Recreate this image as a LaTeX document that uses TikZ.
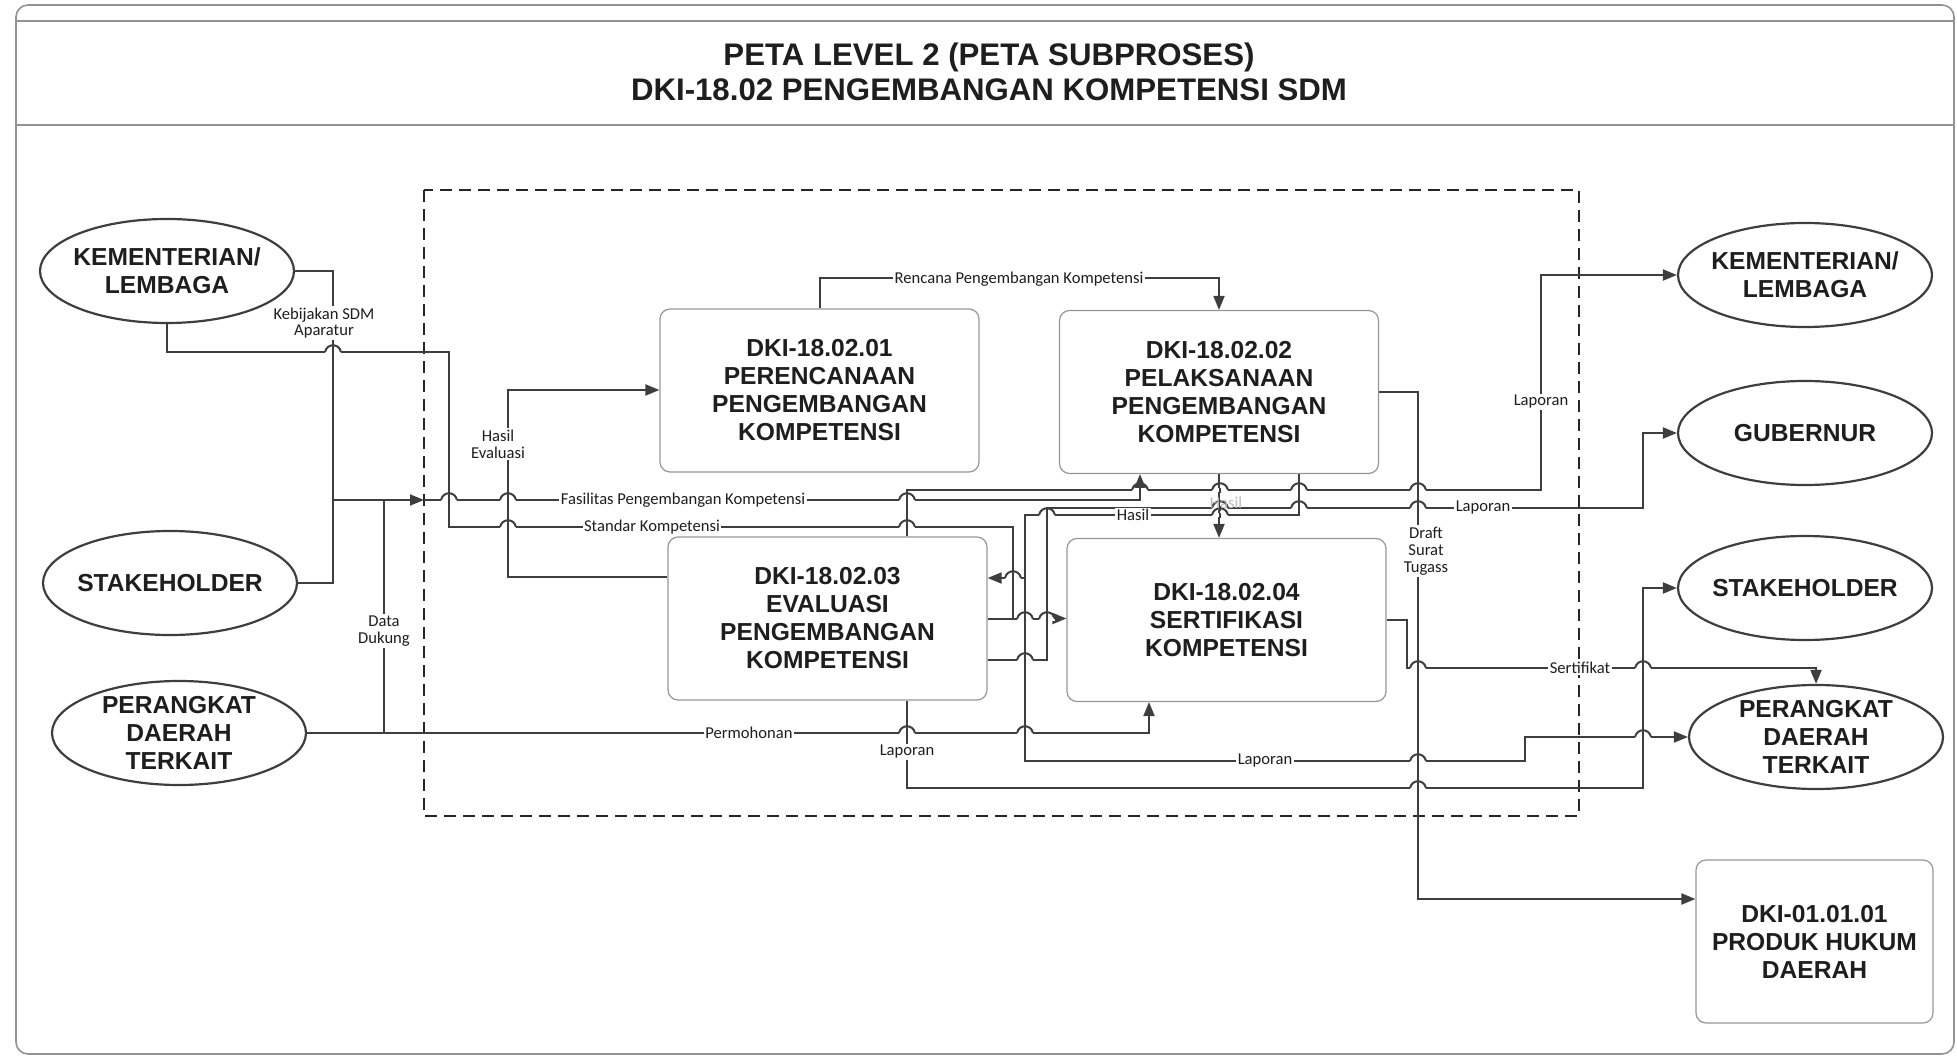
\documentclass[tikz,border=0pt]{standalone}
\usepackage{fontspec}
\setmainfont{Liberation Sans}
\newfontfamily\lblfont{Carlito}
\usepackage{tikz}
\usetikzlibrary{arrows.meta,positioning,calc,shapes.geometric}
\definecolor{lineclr}{RGB}{62,62,62}
\definecolor{boxclr}{RGB}{150,150,150}
\definecolor{txtclr}{RGB}{30,30,30}
\tikzset{
  frame/.style={draw=gray!85, line width=0.8pt, rounded corners=6pt},
  framethin/.style={draw=gray!85, line width=0.8pt},
  area/.style={draw=black!85, line width=0.8pt, dash pattern=on 6pt off 3.5pt},
  proc/.style={draw=boxclr, line width=0.6pt, rounded corners=5pt, align=center,
    text=txtclr, font=\bfseries\fontsize{12.3}{14}\selectfont,
    minimum width=159.5pt, minimum height=81.5pt, inner sep=0pt},
  actxt/.style={align=center, text=txtclr, inner sep=0pt,
    font=\bfseries\fontsize{12.3}{14}\selectfont},
  actor/.style={ellipse, draw=lineclr, line width=1.1pt, minimum width=127pt,
    minimum height=52pt, inner sep=0pt, label={[actxt]center:#1}},
  conn/.style={draw=lineclr, line width=1pt},
  arr/.style={conn, -{Triangle[length=7pt,width=5.5pt]}},
  lbl/.style={fill=white, inner sep=0.8pt, align=center, text=txtclr,
    font=\lblfont\fontsize{8.3}{8.4}\selectfont},
}

\begin{document}
\begin{tikzpicture}[x=0.5pt, y=-0.5pt]
  \useasboundingbox (0,0) rectangle (1957,1058);

  % Frame and title
  \draw[frame] (16,5) rectangle (1954,1054);
  \draw[framethin] (16,21) -- (1954,21);
  \draw[framethin] (16,125) -- (1954,125);
  \node[align=center, text=txtclr, font=\bfseries\fontsize{15.6}{17.5}\selectfont] (ttl) at (989,72)
    {PETA LEVEL 2 (PETA SUBPROSES)\\DKI-18.02 PENGEMBANGAN KOMPETENSI SDM};

  % Subprocess area
  \draw[area] (424,190) rectangle (1579,816);

  % Actors
  \node[actor={KEMENTERIAN/\\LEMBAGA}] (klL) at (167,271) {};
  \node[actor={STAKEHOLDER}] (shL) at (170,583) {};
  \node[actor={PERANGKAT\\DAERAH\\TERKAIT}] (pdL) at (179,733) {};
  \node[actor={KEMENTERIAN/\\LEMBAGA}] (klR) at (1805,275) {};
  \node[actor={GUBERNUR}] (gub) at (1805,433) {};
  \node[actor={STAKEHOLDER}] (shR) at (1805,588) {};
  \node[actor={PERANGKAT\\DAERAH\\TERKAIT}] (pdR) at (1816,737) {};

  % Subprocesses
  \node[proc] (b01) at (819.5,390.5) {DKI-18.02.01\\PERENCANAAN\\PENGEMBANGAN\\KOMPETENSI};
  \node[proc] (b02) at (1219,392) {DKI-18.02.02\\PELAKSANAAN\\PENGEMBANGAN\\KOMPETENSI};
  \node[proc] (b03) at (827.5,618.5) {DKI-18.02.03\\EVALUASI\\PENGEMBANGAN\\KOMPETENSI};
  \node[proc] (b04) at (1226.5,620) {DKI-18.02.04\\SERTIFIKASI\\KOMPETENSI};
  \node[proc, minimum width=118.5pt] (dki) at (1814.5,941.5) {DKI-01.01.01\\PRODUK HUKUM\\DAERAH};

  % Inputs
  \coordinate (jk) at (333,500);
  \coordinate (gate) at (424,500);
  \draw[conn] (klL.east) -| (jk) |- (shL.east);
  \draw[arr] (jk) -- (gate);
  \draw[conn] (pdL.east -| 384,0) -- (jk -| 384,0);
  \draw[arr] (pdL.east) -| (b04.south -| 1149,0);
  \draw[arr] (gate) -| (b02.south -| 1140,0);
  \draw[conn] (klL.south) |- (449,352) |- (1013,527) -- (b03.east -| 1013,0);

  % Between subprocesses
  \draw[arr] (b03.west |- 0,577) -| (508,480) |- (b01.west |- 0,390);
  \draw[arr] (b01.north) -- ++(0,-30) -| (b02.north);
  \draw[arr] (b02.south) -- (b02.south |- b04.north);
  \draw[arr] (b02.south -| 1299,0) |- (1025,515) |- (b03.east |- 0,578);
  \draw[arr] (b03.east) -- (b04.west |- b03.east);

  % Outputs
  \draw[arr] (b02.south -| 1299,0) |- (1025,515) |- (1525,761) |- (pdR.west);
  \draw[arr] (b03.north -| 907,0) |- (1541,490) |- (klR.west);
  \draw[arr] (b03.east |- 0,660) -| (1047,508) -| (1643,470) |- (gub.west);
  \draw[arr] (b03.south -| 907,0) |- (1643,788) |- (shR.west);
  \draw[arr] (b04.east) -| (1407,668) -| (pdR.north);
  \draw[arr] (b02.east) -| (1418,899) -- (dki.west |- 0,899);

  % Line jumps
  \foreach \hx/\hy in {333/352, 449/500, 508/500, 907/500, 508/527, 907/527,
      1140/490, 1220/490, 1299/490, 1418/490, 1220/508, 1299/508, 1418/508,
      1047/515, 1220/515, 1013/578, 1025/619, 1047/619, 1025/660, 907/733,
      1025/733, 1418/668, 1643/668, 1643/737, 1418/761, 1418/788}{
    \fill[white] (\hx-8,\hy-2) rectangle (\hx+8,\hy+2);
    \draw[conn] (\hx,\hy-2.5) -- (\hx,\hy+2.5);
    \draw[conn] (\hx-8,\hy) .. controls (\hx-6,\hy-9) and (\hx+6,\hy-9) .. (\hx+8,\hy);
  }

  % Labels
  \node[lbl] (lKeb) at (324,323) {Kebijakan SDM\\Aparatur};
  \node[lbl] (lHev) at (498,444) {Hasil\\Evaluasi};
  \node[lbl] (lFas) at (683,500) {Fasilitas Pengembangan Kompetensi};
  \node[lbl] (lStd) at (652,527) {Standar Kompetensi};
  \node[lbl] (lDat) at (384,631) {Data\\Dukung};
  \node[lbl] (lPer) at (749,733) {Permohonan};
  \node[lbl] (lRen) at (1019,279) {Rencana Pengembangan Kompetensi};
  \node[lbl, fill=none, text=gray!55] (lHs2) at (1226,503) {Hasil};
  \node[lbl] (lHs1) at (1133,515) {Hasil};
  \node[lbl] (lLap1) at (1541,402) {Laporan};
  \node[lbl] (lLap2) at (1483,508) {Laporan};
  \node[lbl] (lLap3) at (907,752) {Laporan};
  \node[lbl] (lLap4) at (1265,761) {Laporan};
  \node[lbl] (lSer) at (1580,668) {Sertifikat};
  \node[lbl] (lDra) at (1426,551) {Draft\\Surat\\Tugass};
\end{tikzpicture}
\end{document}
